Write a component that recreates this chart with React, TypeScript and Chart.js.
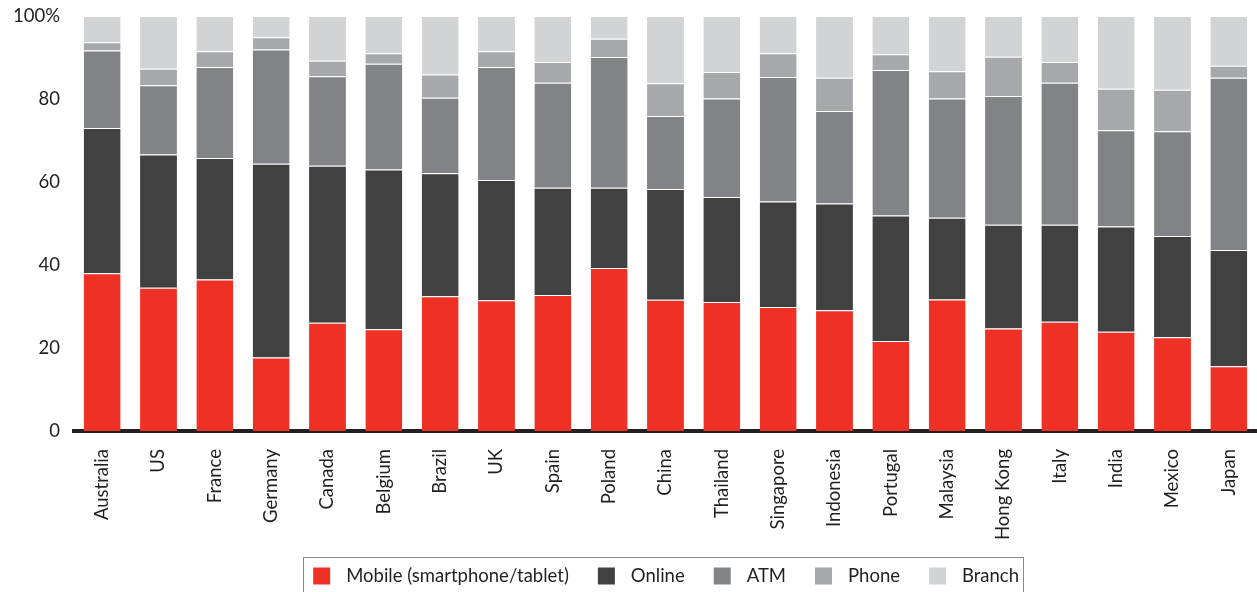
import React, { useEffect, useRef } from 'react';
import { Chart, registerables } from 'chart.js';

Chart.register(...registerables);

const countries = ['Australia', 'US', 'France', 'Germany', 'Canada', 'Belgium', 'Brazil', 'UK', 'Spain', 'Poland', 'China', 'Thailand', 'Singapore', 'Indonesia', 'Portugal', 'Malaysia', 'Hong Kong', 'Italy', 'India', 'Mexico', 'Japan'];
const mobile = [38.0, 34.5, 36.5, 17.7, 26.1, 24.5, 32.5, 31.5, 32.8, 39.3, 31.6, 31.1, 29.9, 29.1, 21.7, 31.7, 24.7, 26.3, 23.9, 22.6, 15.6];
const online = [35.0, 32.1, 29.3, 46.7, 37.8, 38.5, 29.6, 29.0, 25.8, 19.3, 26.7, 25.3, 25.4, 25.7, 30.2, 19.7, 25.0, 23.4, 25.4, 24.4, 28.0];
const atm = [18.7, 16.7, 21.9, 27.5, 21.6, 25.5, 18.2, 27.2, 25.3, 31.5, 17.6, 23.7, 30.0, 22.3, 35.1, 28.7, 31.0, 34.2, 23.2, 25.2, 41.5];
const phone = [2.0, 4.0, 3.8, 3.0, 3.7, 2.5, 5.6, 3.8, 5.0, 4.4, 7.9, 6.4, 5.7, 8.0, 3.8, 6.6, 9.5, 5.0, 10.0, 10.0, 2.9];
const branch = [6.3, 12.7, 8.5, 5.1, 10.8, 9.0, 14.1, 8.5, 11.1, 5.5, 16.2, 13.5, 9.0, 14.9, 9.2, 13.3, 9.8, 11.1, 17.5, 17.8, 12.0];

const seriesLabels = ['Mobile (smartphone/tablet)', 'Online', 'ATM', 'Phone', 'Branch'];
const seriesColors = ['#EE3124', '#414141', '#828387', '#A7A8AB', '#D2D3D5'];
const yTickLabels = ['0', '20', '40', '60', '80', '100%'];

const FONT = 'Lato, "Open Sans", sans-serif';

const boxLegend = {
  id: 'boxLegend',
  afterDraw(chart: any) {
    const ctx = chart.ctx;
    ctx.save();
    ctx.font = `18.5px ${FONT}`;
    const items = chart.data.datasets.map((ds: any) => ({
      label: ds.label as string,
      color: ds.backgroundColor as string,
      w: ctx.measureText(ds.label).width,
    }));
    const sq = 17, gapText = 16, gapItem = 29;
    const total = items.reduce((s: number, it: any) => s + sq + gapText + it.w, 0) + gapItem * (items.length - 1);
    const right = 1019;
    let x = right - total;
    const yc = 576;
    ctx.strokeStyle = '#8a8a8a';
    ctx.lineWidth = 1;
    ctx.strokeRect(Math.round(x - 10) + 0.5, 557.5, Math.round(total + 14), 60);
    ctx.textBaseline = 'middle';
    ctx.textAlign = 'left';
    for (const it of items) {
      ctx.fillStyle = it.color;
      ctx.fillRect(x, yc - 8.5, sq, sq);
      ctx.fillStyle = '#231f20';
      ctx.fillText(it.label, x + sq + gapText, yc);
      x += sq + gapText + it.w + gapItem;
    }
    ctx.restore();
  },
};

export default function App() {
  const ref = useRef<HTMLCanvasElement | null>(null);
  useEffect(() => {
    if (!ref.current) return;
    const values = [mobile, online, atm, phone, branch];
    const chart = new Chart(ref.current, {
      type: 'bar',
      data: {
        labels: countries,
        datasets: values.map((v, i) => ({
          label: seriesLabels[i],
          data: v,
          backgroundColor: seriesColors[i],
          borderColor: '#ffffff',
          borderWidth: { top: 1, left: 0, right: 0, bottom: 0 },
          borderSkipped: 'start',
          barPercentage: 0.655,
          categoryPercentage: 1,
        })),
      },
      options: {
        animation: false,
        responsive: true,
        maintainAspectRatio: false,
        layout: { padding: { top: 16, right: 0, left: 0, bottom: 0 } },
        plugins: {
          legend: { display: false },
          tooltip: { enabled: false },
        },
        scales: {
          x: {
            stacked: true,
            grid: { display: false, drawTicks: false },
            border: { display: true, color: '#231f20', width: 4 },
            ticks: {
              color: '#231f20',
              font: { family: FONT, size: 18.5 },
              minRotation: 90,
              maxRotation: 90,
              padding: 18,
              autoSkip: false,
            },
            afterFit: (scale: any) => {
              scale.height = 161;
              scale.paddingLeft = 0;
              scale.paddingRight = 0;
            },
          },
          y: {
            stacked: true,
            min: 0,
            max: 100,
            grid: { display: false, drawTicks: false },
            border: { display: false },
            ticks: {
              stepSize: 20,
              color: '#231f20',
              font: { family: FONT, size: 18.5 },
              padding: 14,
              callback: (_v: any, i: number) => yTickLabels[i],
            },
            afterFit: (scale: any) => {
              scale.width = 74;
              scale.paddingTop = 0;
              scale.paddingBottom = 0;
            },
          },
        },
      },
      plugins: [boxLegend],
    });
    return () => chart.destroy();
  }, []);
  return (
    <div style={{ position: 'absolute', left: 0, top: 0, width: 1257, height: 592 }}>
      <canvas ref={ref} />
    </div>
  );
}
